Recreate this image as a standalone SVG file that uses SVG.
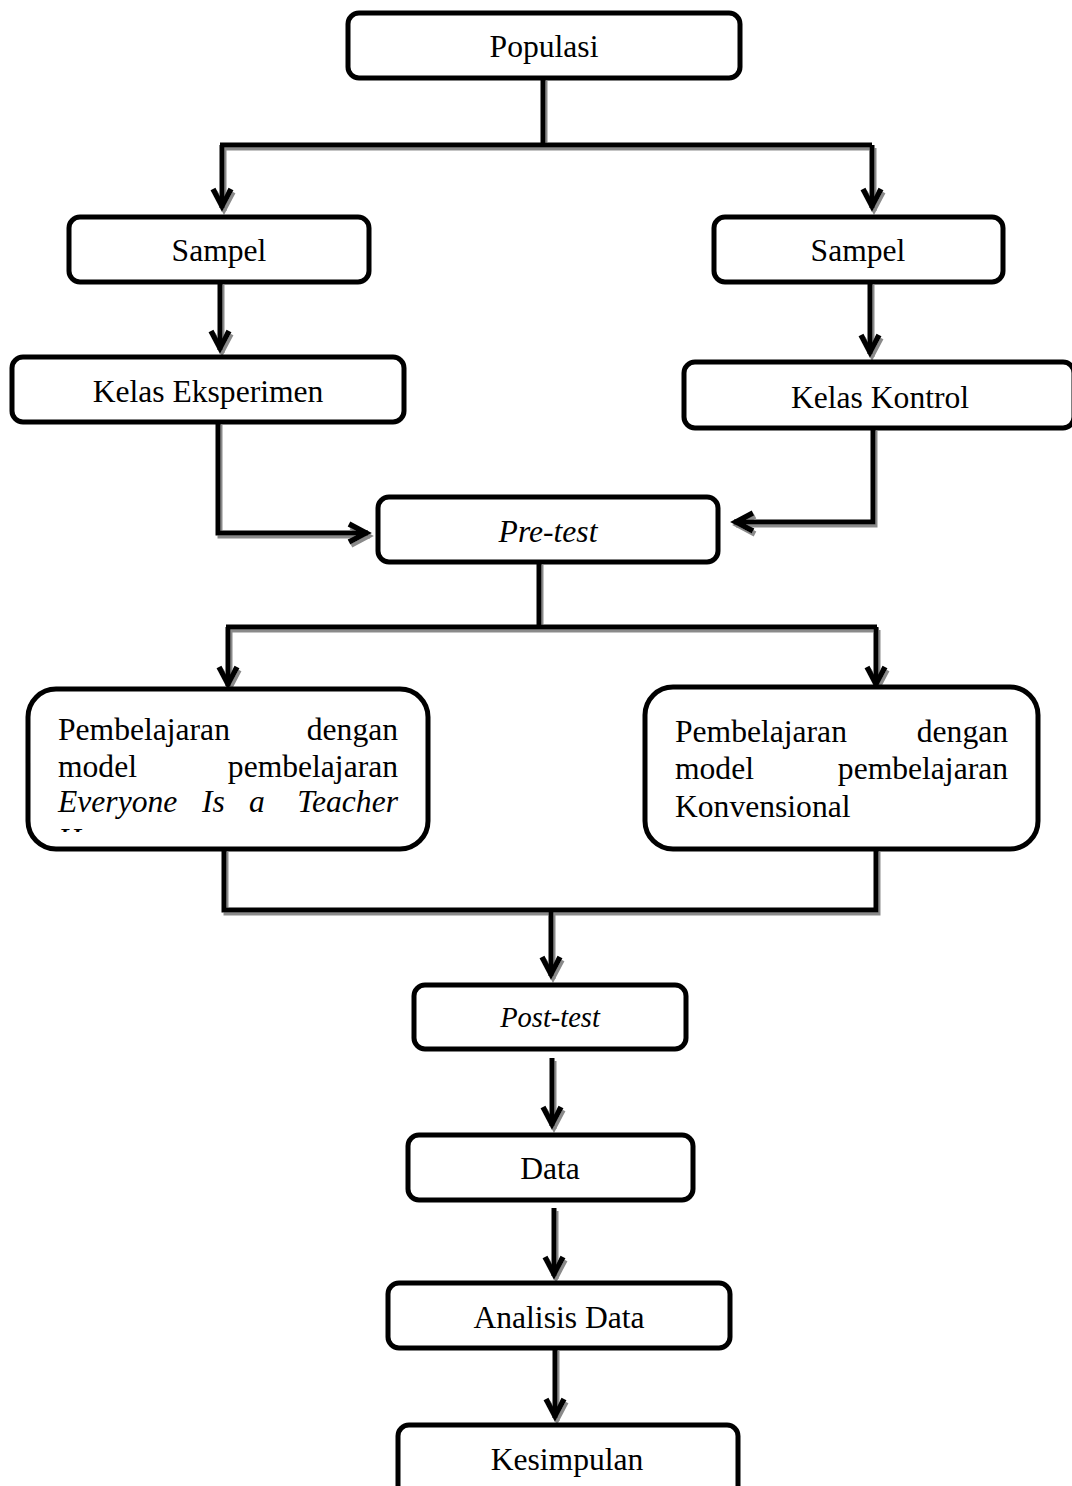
<svg xmlns="http://www.w3.org/2000/svg" width="1072" height="1486" viewBox="0 0 1072 1486">
<style>
.box{fill:#fff;stroke:#000;stroke-width:5}
.t{font-family:"Liberation Serif","Times New Roman",serif;font-size:31.6px;fill:#000}
.c{text-anchor:middle}
.e{text-anchor:end}
.i{font-style:italic}
.ln{fill:none;stroke:#000;stroke-width:5}
</style>
<defs>
<filter id="sh" x="-10%" y="-10%" width="120%" height="130%">
<feDropShadow dx="2" dy="3" stdDeviation="0.6" flood-color="#8a8a8a" flood-opacity="1"/>
</filter>
<marker id="ah" markerUnits="userSpaceOnUse" viewBox="-14 -24 28 28" markerWidth="28" markerHeight="28" refX="0" refY="0" orient="auto-start-reverse" overflow="visible">
<path d="M-9,-19 L0,-2 L9,-19" fill="none" stroke="#000" stroke-width="5.5" stroke-linejoin="miter" transform="rotate(-90)"/>
</marker>
<clipPath id="clipL"><rect x="30" y="691" width="396" height="141"/></clipPath>
</defs>

<g id="connectors" filter="url(#sh)">
<path class="ln" d="M543,78 V145"/>
<path class="ln" d="M220,145 H872"/>
<path class="ln" d="M222,145 V208" marker-end="url(#ah)"/>
<path class="ln" d="M872,145 V208" marker-end="url(#ah)"/>
<path class="ln" d="M220,282 V350" marker-end="url(#ah)"/>
<path class="ln" d="M870,282 V354" marker-end="url(#ah)"/>
<path class="ln" d="M218,422 V533 H368" marker-end="url(#ah)"/>
<path class="ln" d="M873,428 V522 H734" marker-end="url(#ah)"/>
<path class="ln" d="M539,562 V627"/>
<path class="ln" d="M226,627 H877"/>
<path class="ln" d="M228,627 V686" marker-end="url(#ah)"/>
<path class="ln" d="M876,627 V686" marker-end="url(#ah)"/>
<path class="ln" d="M224,849 V910 H876 V849"/>
<path class="ln" d="M551,910 V976" marker-end="url(#ah)"/>
<path class="ln" d="M552,1058 V1126" marker-end="url(#ah)"/>
<path class="ln" d="M554,1208 V1276" marker-end="url(#ah)"/>
<path class="ln" d="M555,1348 V1418" marker-end="url(#ah)"/>
</g>

<g id="populasi">
<rect class="box" x="348" y="13" width="392" height="65" rx="11"/>
<text class="t c" x="544" y="57">Populasi</text>
</g>
<g id="sampel-kiri">
<rect class="box" x="69" y="217" width="300" height="65" rx="11"/>
<text class="t c" x="219" y="261">Sampel</text>
</g>
<g id="sampel-kanan">
<rect class="box" x="714" y="217" width="289" height="65" rx="11"/>
<text class="t c" x="858" y="261">Sampel</text>
</g>
<g id="kelas-eksperimen">
<rect class="box" x="12" y="357" width="392" height="65" rx="11"/>
<text class="t c" x="208" y="402">Kelas Eksperimen</text>
</g>
<g id="kelas-kontrol">
<rect class="box" x="684" y="362" width="390" height="66" rx="11"/>
<text class="t c" x="880" y="408">Kelas Kontrol</text>
</g>
<g id="pre-test">
<rect class="box" x="378" y="497" width="340" height="65" rx="11"/>
<text class="t c i" x="548" y="542">Pre-test</text>
</g>
<g id="pembelajaran-eiat">
<rect class="box" x="28" y="689" width="400" height="160" rx="28"/>
<text class="t" x="58" y="740">Pembelajaran</text>
<text class="t e" x="398" y="740">dengan</text>
<text class="t" x="58" y="777">model</text>
<text class="t e" x="398" y="777">pembelajaran</text>
<text class="t i" x="58" y="812">Everyone</text>
<text class="t i" x="202" y="812">Is</text>
<text class="t i" x="249" y="812">a</text>
<text class="t i e" x="398" y="812">Teacher</text>
<text class="t i" x="58" y="850" clip-path="url(#clipL)">H</text>
</g>
<g id="pembelajaran-konvensional">
<rect class="box" x="645" y="687" width="393" height="162" rx="28"/>
<text class="t" x="675" y="742">Pembelajaran</text>
<text class="t e" x="1008" y="742">dengan</text>
<text class="t" x="675" y="779">model</text>
<text class="t e" x="1008" y="779">pembelajaran</text>
<text class="t" x="675" y="817">Konvensional</text>
</g>
<g id="post-test">
<rect class="box" x="414" y="985" width="272" height="64" rx="11"/>
<text class="t c i" x="550" y="1027" style="font-size:28.5px">Post-test</text>
</g>
<g id="data">
<rect class="box" x="408" y="1135" width="285" height="65" rx="11"/>
<text class="t c" x="550" y="1179">Data</text>
</g>
<g id="analisis-data">
<rect class="box" x="388" y="1283" width="342" height="65" rx="11"/>
<text class="t c" x="559" y="1328">Analisis Data</text>
</g>
<g id="kesimpulan">
<rect class="box" x="398" y="1425" width="340" height="80" rx="11"/>
<text class="t c" x="567" y="1470">Kesimpulan</text>
</g>
</svg>
